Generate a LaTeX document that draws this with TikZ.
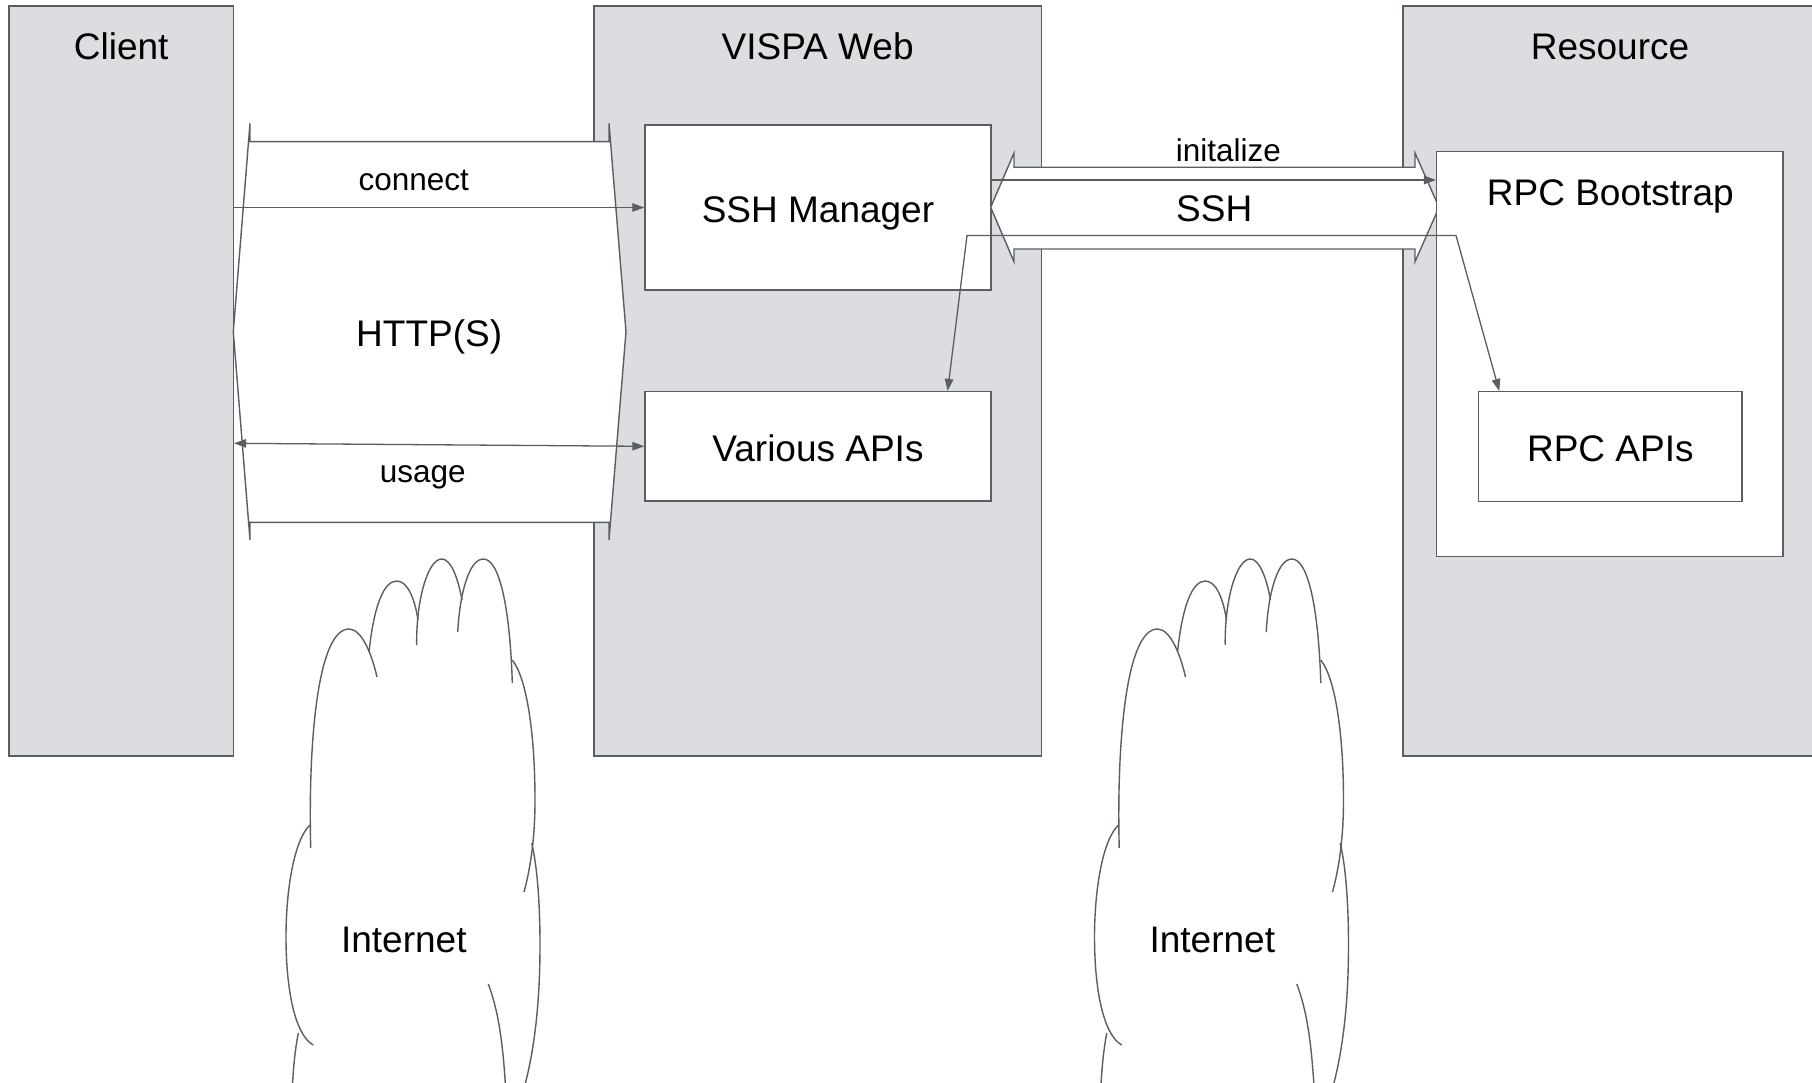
\documentclass[tikz,border=0pt]{standalone}
\usepackage{fontspec}
\setmainfont{Liberation Sans}
\usetikzlibrary{arrows.meta,calc}
\definecolor{linec}{RGB}{89,94,99}
\definecolor{boxgray}{RGB}{220,221,224}
\tikzset{
  netcloud/.pic={
    \draw[cloudline] (310.7,848) .. controls (308,740) and (318,629) .. (349,629) .. controls (362,629) and (372,655) .. (377,677);
    \draw[cloudline] (369,652) .. controls (374,605) and (384,581) .. (396.7,581) .. controls (408,581) and (415,600) .. (418,620);
    \draw[cloudline] (416.7,645) .. controls (416,600) and (428,559) .. (441.7,559) .. controls (451,559) and (458,578) .. (462,600);
    \draw[cloudline] (457.7,632) .. controls (460,590) and (470,559) .. (483.3,559) .. controls (500,559) and (510,610) .. (512.3,683);
    \draw[cloudline] (512.3,660) .. controls (528,680) and (535,740) .. (535,800) .. controls (535,840) and (530,870) .. (524,892);
    \draw[cloudline] (531.7,843) .. controls (538,870) and (540,910) .. (540,945) .. controls (540,1000) and (535,1050) .. (523,1092);
    \draw[cloudline] (488.3,984) .. controls (498,1010) and (503,1040) .. (506,1095);
    \draw[cloudline] (310,825) .. controls (294,840) and (286,890) .. (286,937) .. controls (286,990) and (295,1035) .. (313.3,1045);
    \draw[cloudline] (298.3,1033) .. controls (295,1050) and (293,1070) .. (292,1095);
  }
}
\begin{document}
\begin{tikzpicture}[x=1pt,y=-1pt,
  bigtext/.style={font=\fontsize{37}{44}\selectfont},
  smalltext/.style={font=\fontsize{31.5}{38}\selectfont},
  lane/.style={draw=linec, fill=boxgray, line width=1.4pt, inner sep=0pt, rectangle},
  comp/.style={draw=linec, fill=white, line width=1.4pt, inner sep=0pt, rectangle, bigtext, text height=30pt, text depth=0pt},
  bigarrow/.style={draw=linec, fill=white, line width=1.4pt, line join=miter},
  >={Triangle[length=12pt,width=8.5pt]},
  conn/.style={draw=linec, line width=1.3pt, ->},
  cloudline/.style={draw=linec, line width=1.4pt},
  lbl/.style={anchor=base, inner sep=0pt, text=black}
]
\useasboundingbox (0,0) rectangle (1812,1083);
\fill[white] (0,0) rectangle (1812,1083);
\clip (0,0) rectangle (1812,1083);

% lanes
\node[lane, minimum width=224.3pt, minimum height=750pt] (client) at (121.2,381) {};
\node[lane, minimum width=447.5pt, minimum height=750pt] (vispa) at (817.8,381) {};
\node[lane, minimum width=413pt, minimum height=750pt] (resource) at (1609.5,381) {};

% HTTP(S) double arrow
\path[bigarrow] (233.3,331.7) -- (250,123.3) -- (250,141.7) -- (609,141.7) -- (609,123.3)
  -- (626,331.7) -- (609,540) -- (609,522.3) -- (250,522.3) -- (250,540) -- cycle;

% components
\node[comp, minimum width=346pt, minimum height=165pt] (ssh) at (818,207.5) {SSH Manager};
\node[comp, minimum width=346pt, minimum height=109.3pt] (apis) at (818,446.3) {Various APIs};

% SSH double arrow
\path[bigarrow] (990.7,207.3) -- (1014,153) -- (1014,167.3) -- (1415,167.3) -- (1415,153)
  -- (1439,207.3) -- (1415,261.7) -- (1415,249) -- (1014,249) -- (1014,261.7) -- cycle;

\node[comp, minimum width=346.3pt, minimum height=405pt] (boot) at (1609.8,354.2) {};
\node[comp, minimum width=263.3pt, minimum height=110pt] (rpcapis) at (1610.3,446.7) {RPC APIs};

% connectors
\draw[conn] (client.east |- ssh.west) -- (ssh.west);
\draw[conn, <->] ($(client.east |- apis.west)+(0,-3)$) -- (apis.west);
\coordinate (i1) at ([yshift=27.5pt]ssh.east);
\draw[conn] (i1) -- (i1 -| boot.west);
\coordinate (b1) at (967,235.5);
\coordinate (b2) at (1456,235.5);
\draw[conn, <->] ([xshift=129.6pt]apis.north) -- (b1) -- (b2) -- ([xshift=21.3pt]rpcapis.north west);

% clouds
\pic at (0,0) {netcloud};
\pic at (808.5,0) {netcloud};

% labels
\node[lbl, bigtext] (clientlbl) at (121.2,60) {Client};
\node[lbl, bigtext] (vispalbl) at (817.6,60) {VISPA Web};
\node[lbl, bigtext] (reslbl) at (1610,60) {Resource};
\node[lbl, bigtext] (bootlbl) at (1610.3,205.7) {RPC Bootstrap};
\node[lbl, smalltext] (connectlbl) at (413.8,191) {connect};
\node[lbl, bigtext] (httplbl) at (429.2,346.7) {HTTP(S)};
\node[lbl, smalltext] (usagelbl) at (422.8,482.7) {usage};
\node[lbl, smalltext] (initlbl) at (1228.3,161.7) {initalize};
\node[lbl, bigtext] (sshlbl) at (1214.2,221.7) {SSH};
\node[lbl, bigtext] (net1) at (403.8,952.7) {Internet};
\node[lbl, bigtext] (net2) at (1212.3,952.7) {Internet};
\end{tikzpicture}
\end{document}
